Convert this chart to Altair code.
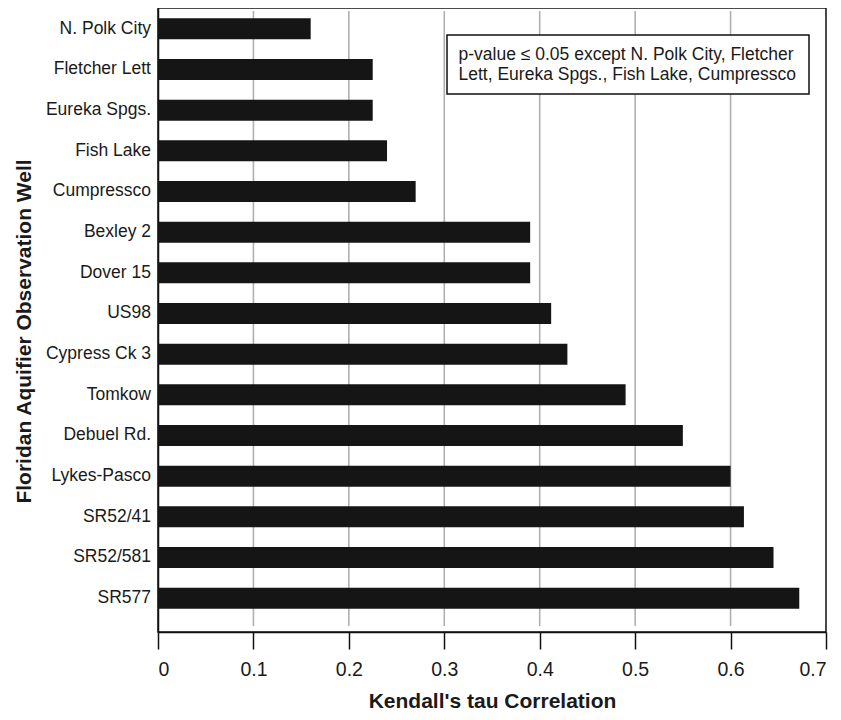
import altair as alt
import pandas as pd

wells = ["N. Polk City", "Fletcher Lett", "Eureka Spgs.", "Fish Lake", "Cumpressco",
         "Bexley 2", "Dover 15", "US98", "Cypress Ck 3", "Tomkow", "Debuel Rd.",
         "Lykes-Pasco", "SR52/41", "SR52/581", "SR577"]
tau = [0.16, 0.225, 0.225, 0.24, 0.27, 0.39, 0.39, 0.412, 0.429, 0.49, 0.55,
       0.60, 0.614, 0.645, 0.672]
x_ticks = [0, 0.1, 0.2, 0.3, 0.4, 0.5, 0.6, 0.7]
grid_vals = [0.1, 0.2, 0.3, 0.4, 0.5, 0.6]
note_lines = ["p-value \u2264 0.05 except N. Polk City, Fletcher",
              "Lett, Eureka Spgs., Fish Lake, Cumpressco"]

FONT = "Liberation Sans"

df = pd.DataFrame({"well": wells, "tau": tau})
grid_df = pd.DataFrame({"v": grid_vals})
one = pd.DataFrame({"a": [0]})

xscale = alt.Scale(domain=[0, 0.7], nice=False, zero=True)
xaxis = alt.Axis(values=x_ticks, format="~g", grid=False,
                 tickSize=17, tickWidth=1.5, tickColor="#111",
                 domainColor="#111", domainWidth=1.5,
                 labelFontSize=19.5, labelFont=FONT, labelColor="#1a1a1a",
                 labelBaseline="alphabetic", labelPadding=26,
                 title="Kendall's tau Correlation", titleFont=FONT,
                 titleFontSize=21, titleFontWeight="bold", titleColor="#1a1a1a",
                 titleX=334, titleY=75, titleAlign="center",
                 titleBaseline="alphabetic")

grid = alt.Chart(grid_df).mark_rule(color="#b0b0b0", strokeWidth=1.6).encode(
    x=alt.X("v:Q", scale=xscale, axis=xaxis),
    y=alt.value(3),
    y2=alt.value(618),
)

bars = alt.Chart(df).mark_bar(color="#151515").encode(
    x=alt.X("tau:Q", scale=xscale, axis=xaxis),
    y=alt.Y("well:N", sort=wells,
            scale=alt.Scale(paddingInner=0.4837, paddingOuter=0.4135, align=0.306),
            axis=alt.Axis(ticks=False, tickSize=0, labelPadding=7.5,
                          labelFontSize=17.5, labelFont=FONT, labelColor="#1a1a1a",
                          domainColor="#111", domainWidth=1.5,
                          title="Floridan Aquifier Observation Well",
                          titleFont=FONT, titleFontSize=21, titleFontWeight="bold",
                          titleColor="#1a1a1a", titleAngle=270,
                          titleX=-128, titleY=323, titleAlign="center",
                          titleBaseline="alphabetic")),
)

box = alt.Chart(one).mark_rect(fill="white", stroke="#111", strokeWidth=1.5).encode(
    x=alt.value(289), x2=alt.value(651), y=alt.value(27), y2=alt.value(86),
)

note = alt.Chart(one).mark_text(align="left", baseline="alphabetic",
                                font=FONT, fontSize=17.5, lineHeight=20,
                                color="#1a1a1a").encode(
    x=alt.value(300.5), y=alt.value(51.6), text=alt.value(note_lines),
)

chart = alt.layer(grid, bars, box, note).properties(
    width=668, height=624,
    autosize=alt.AutoSizeParams(type="none"),
    padding={"left": 150, "top": 0, "right": 7, "bottom": 80},
).configure_view(stroke="#111", strokeWidth=1.5)

chart.save("out.html", embed_options={"renderer": "svg", "actions": False})
